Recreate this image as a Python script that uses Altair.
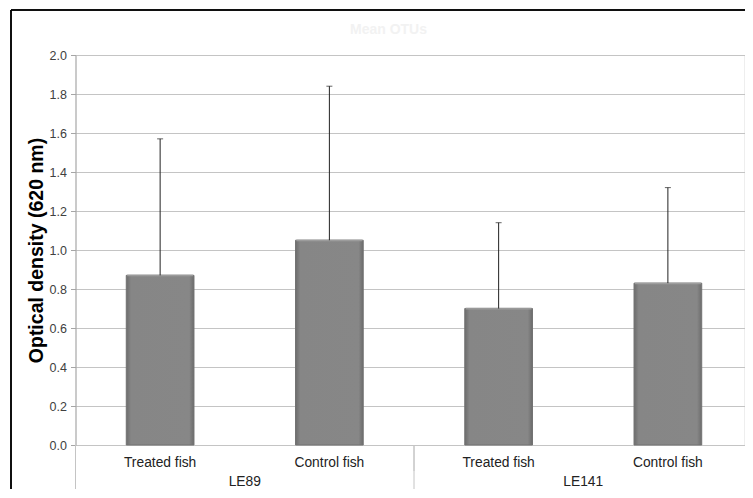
import altair as alt
import pandas as pd

# ---- data ----
groups = ["LE89", "LE89", "LE141", "LE141"]
categories = ["Treated fish", "Control fish", "Treated fish", "Control fish"]
means = [0.87, 1.05, 0.70, 0.83]
upper = [1.57, 1.84, 1.14, 1.32]
y_ticks = [0.0, 0.2, 0.4, 0.6, 0.8, 1.0, 1.2, 1.4, 1.6, 1.8, 2.0]
group_names = ["LE89", "LE141"]
chart_title = "Mean OTUs"

keys = [g + " | " + c for g, c in zip(groups, categories)]
df = pd.DataFrame({"key": keys, "group": groups, "category": categories,
                   "mean": means, "upper": upper})
gdf = pd.DataFrame({"group": group_names})
tdf = pd.DataFrame({"title": [chart_title]})

W, H = 669, 390      # visible plot area (page is cut at the right edge)
XR = 677             # full extent of the category axis
FONT = "Liberation Sans"

yscale = alt.Scale(domain=[0, 2], nice=False)
yaxis = alt.Axis(values=y_ticks, format=".1f", grid=True, gridColor="#c4c4c4",
                 labelOverlap=False, tickCount=11,
                 domainColor="#a6a6a6", tickColor="#a6a6a6", tickSize=5,
                 labelColor="#404040", labelFontSize=12.5, labelPadding=4,
                 title="Optical density (620 nm)", titleFontSize=19.5,
                 titleFontWeight="bold", titleColor="#000000", titlePadding=3)

xband = alt.X("key:N", sort=keys, axis=None,
              scale=alt.Scale(paddingInner=0.6, paddingOuter=0.3, range=[0, XR]))

base = alt.Chart(df)

bars = base.mark_bar(
    color=alt.Gradient(gradient="linear", x1=0, x2=1, y1=0, y2=0,
                       stops=[alt.GradientStop(color="#6c6c6c", offset=0),
                              alt.GradientStop(color="#868686", offset=0.07),
                              alt.GradientStop(color="#878787", offset=0.93),
                              alt.GradientStop(color="#6c6c6c", offset=1)]),
    stroke="#727272", strokeWidth=1
).encode(x=xband, y=alt.Y("mean:Q", scale=yscale, axis=yaxis))

bar_top = base.mark_tick(color="#a9a9a9", thickness=2, size=66).encode(
    x=xband, y=alt.Y("mean:Q", scale=yscale, axis=yaxis))

err = base.mark_rule(color="#222222", strokeWidth=1).encode(
    x=xband, y=alt.Y("mean:Q", scale=yscale, axis=yaxis), y2="upper:Q")

cap = base.mark_tick(color="#222222", thickness=1, size=6).encode(
    x=xband, y=alt.Y("upper:Q", scale=yscale, axis=yaxis))

cat_text = base.mark_text(font=FONT, fontSize=13.8, color="#222222",
                          baseline="middle", dy=18).encode(
    x=xband, y=alt.value(H), text="category:N")

# short separators between categories inside a group
xfull = alt.X("key:N", sort=keys, axis=None,
              scale=alt.Scale(paddingInner=0, paddingOuter=0, range=[0, XR]),
              bandPosition=0)
short_sep = base.transform_filter(alt.datum.category == "Control fish").mark_rule(
    color="#c4c4c4", strokeWidth=1).encode(
    x=xfull, y=alt.value(H), y2=alt.value(H + 26))

# group labels and long separators
xgroup = alt.X("group:N", sort=group_names, axis=None,
               scale=alt.Scale(paddingInner=0, paddingOuter=0, range=[0, XR]))
group_text = alt.Chart(gdf).mark_text(font=FONT, fontSize=13.8, color="#222222",
                                      baseline="middle", dy=37).encode(
    x=xgroup, y=alt.value(H), text="group:N")
xgroup0 = alt.X("group:N", sort=group_names, axis=None,
                scale=alt.Scale(paddingInner=0, paddingOuter=0, range=[0, XR]),
                bandPosition=0)
long_sep = alt.Chart(gdf).mark_rule(color="#c4c4c4", strokeWidth=1).encode(
    x=xgroup0, y=alt.value(H), y2=alt.value(H + 60))

# chart-area frame (left and top edges visible in the reference)
frame_left = alt.Chart(gdf).mark_rule(color="#000000", strokeWidth=1.5).encode(
    x=alt.value(-64.5), y=alt.value(-45), y2=alt.value(H + 60))
frame_top = alt.Chart(gdf).mark_rule(color="#000000", strokeWidth=1.5).encode(
    x=alt.value(-64.5), x2=alt.value(XR + 10), y=alt.value(-45))

# faint chart title
title_text = alt.Chart(tdf).mark_text(font=FONT, fontSize=14, fontWeight="bold",
                                      color="#f2f2f2", baseline="middle").encode(
    x=alt.value(313), y=alt.value(-25), text="title:N")

chart = alt.layer(
    frame_left, frame_top, title_text, long_sep, short_sep,
    bars, bar_top, err, cap, cat_text, group_text
).resolve_scale(x="independent").properties(
    width=W, height=H,
    autosize=alt.AutoSizeParams(type="none"),
    padding={"left": 67.5, "top": 47, "right": 0, "bottom": 44},
).configure_view(stroke=None).configure(font=FONT)

chart.save("out.html", embed_options={"renderer": "svg", "actions": False})
